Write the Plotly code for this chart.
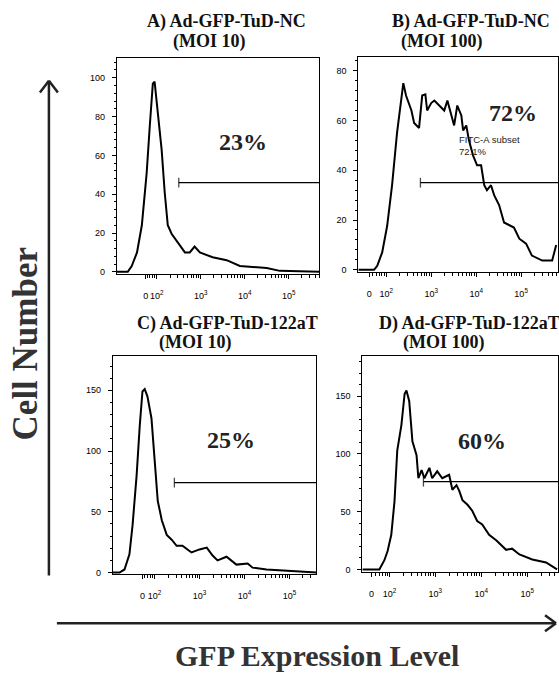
import math
import plotly.graph_objects as go

# ---------------- data (x = GFP display position in decades, y = cell number) ----------------
a_x = [1.09, 1.34, 1.43, 1.55, 1.66, 1.77, 1.84, 1.91, 1.95, 2.02, 2.11, 2.18, 2.25, 2.34, 2.48,
       2.64, 2.75, 2.86, 2.98, 3.27, 3.59, 3.89, 4.18, 4.5, 4.8, 5.7]
a_y = [0, 0, 3, 10, 24, 51, 75, 97, 98, 84, 63, 41, 24, 19.5, 15,
       10, 10, 13, 10, 7.5, 6, 3, 2.5, 2, 0.5, 0]

b_x = [1.38, 1.73, 1.8, 1.91, 2.02, 2.13, 2.24, 2.33, 2.38, 2.44, 2.56, 2.62, 2.73, 2.8, 2.87,
       2.91, 3.0, 3.07, 3.18, 3.29, 3.36, 3.44, 3.51, 3.58, 3.67, 3.71, 3.78, 3.84, 3.93, 4.02,
       4.11, 4.18, 4.24, 4.33, 4.4, 4.51, 4.62, 4.73, 4.84, 4.96, 5.11, 5.24, 5.47, 5.69, 5.78]
b_y = [0, 0, 1.6, 7, 17.6, 34, 55, 68, 75, 70, 64, 59, 57, 70, 70.5,
       64, 67, 68, 66, 64, 68, 63, 58, 66, 62, 56, 58, 52, 46, 42,
       42, 34, 32, 34, 30, 26, 19, 18, 17, 12.5, 10.5, 5.7, 3.7, 3.7, 10]

c_x = [1.07, 1.22, 1.33, 1.44, 1.51, 1.6, 1.67, 1.73, 1.78, 1.84, 1.93, 2.0, 2.07, 2.16, 2.27,
       2.38, 2.49, 2.62, 2.82, 3.0, 3.16, 3.29, 3.4, 3.6, 3.82, 4.07, 4.18, 4.49, 4.93, 5.51, 5.6]
c_y = [0, 0, 2.5, 15, 39, 80, 121, 149, 151, 145, 127, 94, 59, 43, 31,
       27, 22, 22, 16.5, 19, 20.5, 14, 10, 13, 6.5, 7.4, 4, 2.5, 1.6, 0, 0]

d_x = [1.41, 1.78, 1.89, 1.96, 2.04, 2.11, 2.17, 2.26, 2.33, 2.37, 2.43, 2.5, 2.59, 2.63, 2.7,
       2.76, 2.87, 2.93, 3.04, 3.15, 3.3, 3.37, 3.46, 3.52, 3.59, 3.7, 3.8, 3.91, 4.02, 4.17,
       4.33, 4.54, 4.67, 4.83, 5.11, 5.41, 5.65]
d_y = [0, 0, 8, 16, 30, 59, 103, 125, 152, 155, 146, 111, 99, 79, 86,
       79, 88, 79, 85, 79, 82, 69, 73, 68, 60, 56, 51, 42, 39, 30,
       25, 17, 18, 13, 8.6, 6, 0]

titles_line1 = ["A) Ad-GFP-TuD-NC", "B) Ad-GFP-TuD-NC", "C) Ad-GFP-TuD-122aT", "D) Ad-GFP-TuD-122aT"]
titles_line2 = ["(MOI 10)", "(MOI 100)", "(MOI 10)", "(MOI 100)"]

gate_start = [2.5, 2.76, 2.44, 2.74]
gate_level = [46, 35, 74, 76]
pct_text = ["23%", "72%", "25%", "60%"]
pct_x = [3.95, 4.82, 3.71, 4.02]
pct_y = [67, 63, 109, 111]

subset_text = "FITC-A subset<br>72.1%"
subset_x = 3.58
subset_y = 50

zero_tick = [1.75, 1.62, 1.73, 1.61]
x_tick_text = ["0", "10<sup>2</sup>", "10<sup>3</sup>", "10<sup>4</sup>", "10<sup>5</sup>"]
y_ticks = [[0, 20, 40, 60, 80, 100], [0, 20, 40, 60, 80], [0, 50, 100, 150], [0, 50, 100, 150]]
y_minor_step = [4, 4, 10, 10]

# ---------------- layout geometry ----------------
W, H = 559, 678
px = lambda v: v / W
py = lambda v: 1 - v / H

panels = [
    dict(x=a_x, y=a_y, dom_x=(117, 320), dom_y=(58, 275), xr=(1.09, 5.7), yr=(-1, 110.3)),
    dict(x=b_x, y=b_y, dom_x=(359, 559), dom_y=(57, 273), xr=(1.38, 5.82), yr=(-0.8, 85.6)),
    dict(x=c_x, y=c_y, dom_x=(113, 317), dom_y=(358, 577), xr=(1.07, 5.6), yr=(-1.6, 177.9)),
    dict(x=d_x, y=d_y, dom_x=(363, 559), dom_y=(358, 575), xr=(1.41, 5.67), yr=(-2.6, 184.5)),
]

minor_x = sorted(set([round(k + math.log10(m), 4) for k in (1, 2, 3, 4, 5) for m in range(2, 10)]))

fig = go.Figure()
layout = dict(
    width=W, height=H, margin=dict(l=0, r=0, t=0, b=0),
    paper_bgcolor="white", plot_bgcolor="white", showlegend=False,
    annotations=[], shapes=[],
)
tickfont = dict(family="Liberation Sans, Arial", size=9, color="black")

for i, p in enumerate(panels):
    xa = "x" if i == 0 else f"x{i+1}"
    ya = "y" if i == 0 else f"y{i+1}"
    xk = "xaxis" if i == 0 else f"xaxis{i+1}"
    yk = "yaxis" if i == 0 else f"yaxis{i+1}"
    fig.add_trace(go.Scatter(x=p["x"], y=p["y"], xaxis=xa, yaxis=ya, mode="lines",
                             line=dict(color="black", width=2), hoverinfo="skip"))
    # gate
    fig.add_trace(go.Scatter(x=[gate_start[i], p["xr"][1]], y=[gate_level[i], gate_level[i]],
                             xaxis=xa, yaxis=ya, mode="lines+markers",
                             line=dict(color="black", width=1.3),
                             marker=dict(symbol=["line-ns-open", "line-ns-open"], size=[7, 0],
                                         line=dict(color="black", width=1.3)),
                             hoverinfo="skip", cliponaxis=False))
    lo, hi = p["xr"]
    layout[xk] = dict(domain=[px(p["dom_x"][0]), px(p["dom_x"][1])], range=[lo, hi], anchor=ya,
                      showline=True, mirror=True, linecolor="black", linewidth=1,
                      showgrid=False, zeroline=False, ticks="outside", ticklen=4, tickcolor="black",
                      tickmode="array", tickvals=[zero_tick[i], 2, 3, 4, 5], ticktext=x_tick_text,
                      tickfont=tickfont, tickangle=0, ticklabelstandoff=9,
                      minor=dict(tickmode="array", tickvals=[v for v in minor_x if lo < v < hi and v > zero_tick[i]],
                                 ticks="outside", ticklen=3, tickcolor="black", tickwidth=1))
    layout[yk] = dict(domain=[py(p["dom_y"][1]), py(p["dom_y"][0])], range=list(p["yr"]), anchor=xa,
                      showline=True, mirror=True, linecolor="black", linewidth=1,
                      showgrid=False, zeroline=False, ticks="outside", ticklen=4, tickcolor="black",
                      tickmode="array", tickvals=y_ticks[i], tickfont=tickfont, tickangle=0,
                      ticklabelstandoff=5,
                      minor=dict(tickmode="linear", tick0=0, dtick=y_minor_step[i],
                                 ticks="outside", ticklen=2, tickcolor="black", tickwidth=1))
    # percent label
    layout["annotations"].append(dict(xref=xa, yref=ya, x=pct_x[i], y=pct_y[i], text=f"<b>{pct_text[i]}</b>",
                                      showarrow=False, font=dict(family="Liberation Serif", size=24, color="#222")))

# titles
title_pos = [(227, 22, 171, 42), (472, 22, 400, 42), (228, 325, 157, 344), (470, 325, 402, 344)]
for i, (x1, y1, x2, y2) in enumerate(title_pos):
    layout["annotations"].append(dict(xref="paper", yref="paper", x=px(x1), y=py(y1), text=f"<b>{titles_line1[i]}</b>",
                                      showarrow=False, xanchor="center", yanchor="middle",
                                      font=dict(family="Liberation Serif", size=18, color="#111")))
    layout["annotations"].append(dict(xref="paper", yref="paper", x=px(x2), y=py(y2), text=f"<b>{titles_line2[i]}</b>",
                                      showarrow=False, xanchor="left", yanchor="middle",
                                      font=dict(family="Liberation Serif", size=18, color="#111")))

# subset label in panel B
layout["annotations"].append(dict(xref="x2", yref="y2", x=subset_x, y=subset_y, text=subset_text, align="left",
                                  showarrow=False, xanchor="left", yanchor="middle",
                                  font=dict(family="Liberation Sans, Arial", size=9.5, color="#222")))

# axis titles
layout["annotations"].append(dict(xref="paper", yref="paper", x=px(26), y=py(345), text="<b>Cell Number</b>",
                                  textangle=-90, showarrow=False, xanchor="center", yanchor="middle",
                                  font=dict(family="Liberation Serif", size=35, color="#333")))
layout["annotations"].append(dict(xref="paper", yref="paper", x=px(318), y=py(658), text="<b>GFP Expression Level</b>",
                                  showarrow=False, xanchor="center", yanchor="middle",
                                  font=dict(family="Liberation Serif", size=30, color="#333")))

# arrows (decorative)
def seg(x0, y0, x1, y1, w=2.5):
    return dict(type="line", xref="paper", yref="paper", x0=px(x0), y0=py(y0), x1=px(x1), y1=py(y1),
                line=dict(color="#222", width=w))
layout["shapes"] += [
    seg(49, 578, 49, 81), seg(40, 93, 49, 81), seg(58, 93, 49, 81),
    seg(57, 626, 557, 626), seg(546, 618, 557, 626), seg(546, 634, 557, 626),
]

fig.update_layout(**layout)
fig.write_html("out.html", config={"displayModeBar": False},
               post_script="document.body.style.margin='0px';document.body.style.overflow='hidden';")
